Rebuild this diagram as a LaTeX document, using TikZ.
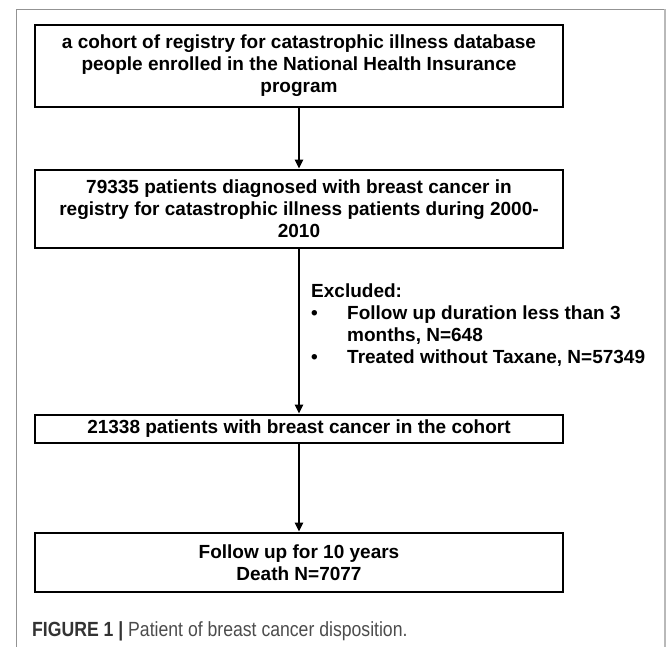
\documentclass[tikz,border=0pt]{standalone}
\usepackage{fontspec}
\setmainfont{Liberation Sans}
\newfontfamily\capfont[FakeStretch=0.86]{Liberation Sans}
\usetikzlibrary{arrows.meta}

\begin{document}
\begin{tikzpicture}[x=1pt,y=-1pt,
  box/.style={draw,line width=2.6pt,minimum width=528pt,inner sep=0pt,align=center,
    font=\fontsize{19}{22}\selectfont\bfseries},
  arr/.style={-{Triangle[length=9pt,width=8pt]},line width=2.2pt}]
\useasboundingbox (0,0) rectangle (667,647);
% frame of the figure
\draw[gray!85,line width=0.9pt] (16,647) -- (16,9.5) -- (665,9.5);
\draw[gray!55,line width=2.2pt] (665,9.5) -- (665,647);
% boxes
\node [box,minimum height=82pt] (cohort) at (299,66)
  {a cohort of registry for catastrophic illness database\\
   people enrolled in the National Health Insurance\\program};
\node [box,minimum height=78pt] (diag) at (299,209)
  {79335 patients diagnosed with breast cancer in\\
   registry for catastrophic illness patients during 2000-\\2010};
\node [box,minimum height=28pt] (taxane) at (299,429)
  {21338 patients with breast cancer in the cohort};
\node [box,minimum height=59pt] (death) at (299,562.5)
  {Follow up for 10 years\\Death N=7077};
% excluded patients
\node [anchor=north west,inner sep=0pt,align=left,font=\fontsize{19}{22}\selectfont\bfseries] (excl) at (311,282)
  {\begin{tabular}{@{}l@{}l@{}}
   \multicolumn{2}{@{}l}{Excluded:}\\
   \makebox[36pt][l]{\textbullet} & Follow up duration less than 3\\
    & months, N=648\\
   \makebox[36pt][l]{\textbullet} & Treated without Taxane, N=57349
   \end{tabular}};
% arrows
\draw [arr] (cohort) -- (diag);
\draw [arr] (diag) -- (taxane);
\draw [arr] (taxane) -- (death);
% caption
\node [anchor=base west,inner sep=0pt,font=\capfont\fontsize{20.5}{22}\selectfont] (caption) at (32,636)
  {\textcolor{black!80}{\bfseries FIGURE 1 |} \textcolor{black!70}{Patient of breast cancer disposition.}};
\end{tikzpicture}
\end{document}
